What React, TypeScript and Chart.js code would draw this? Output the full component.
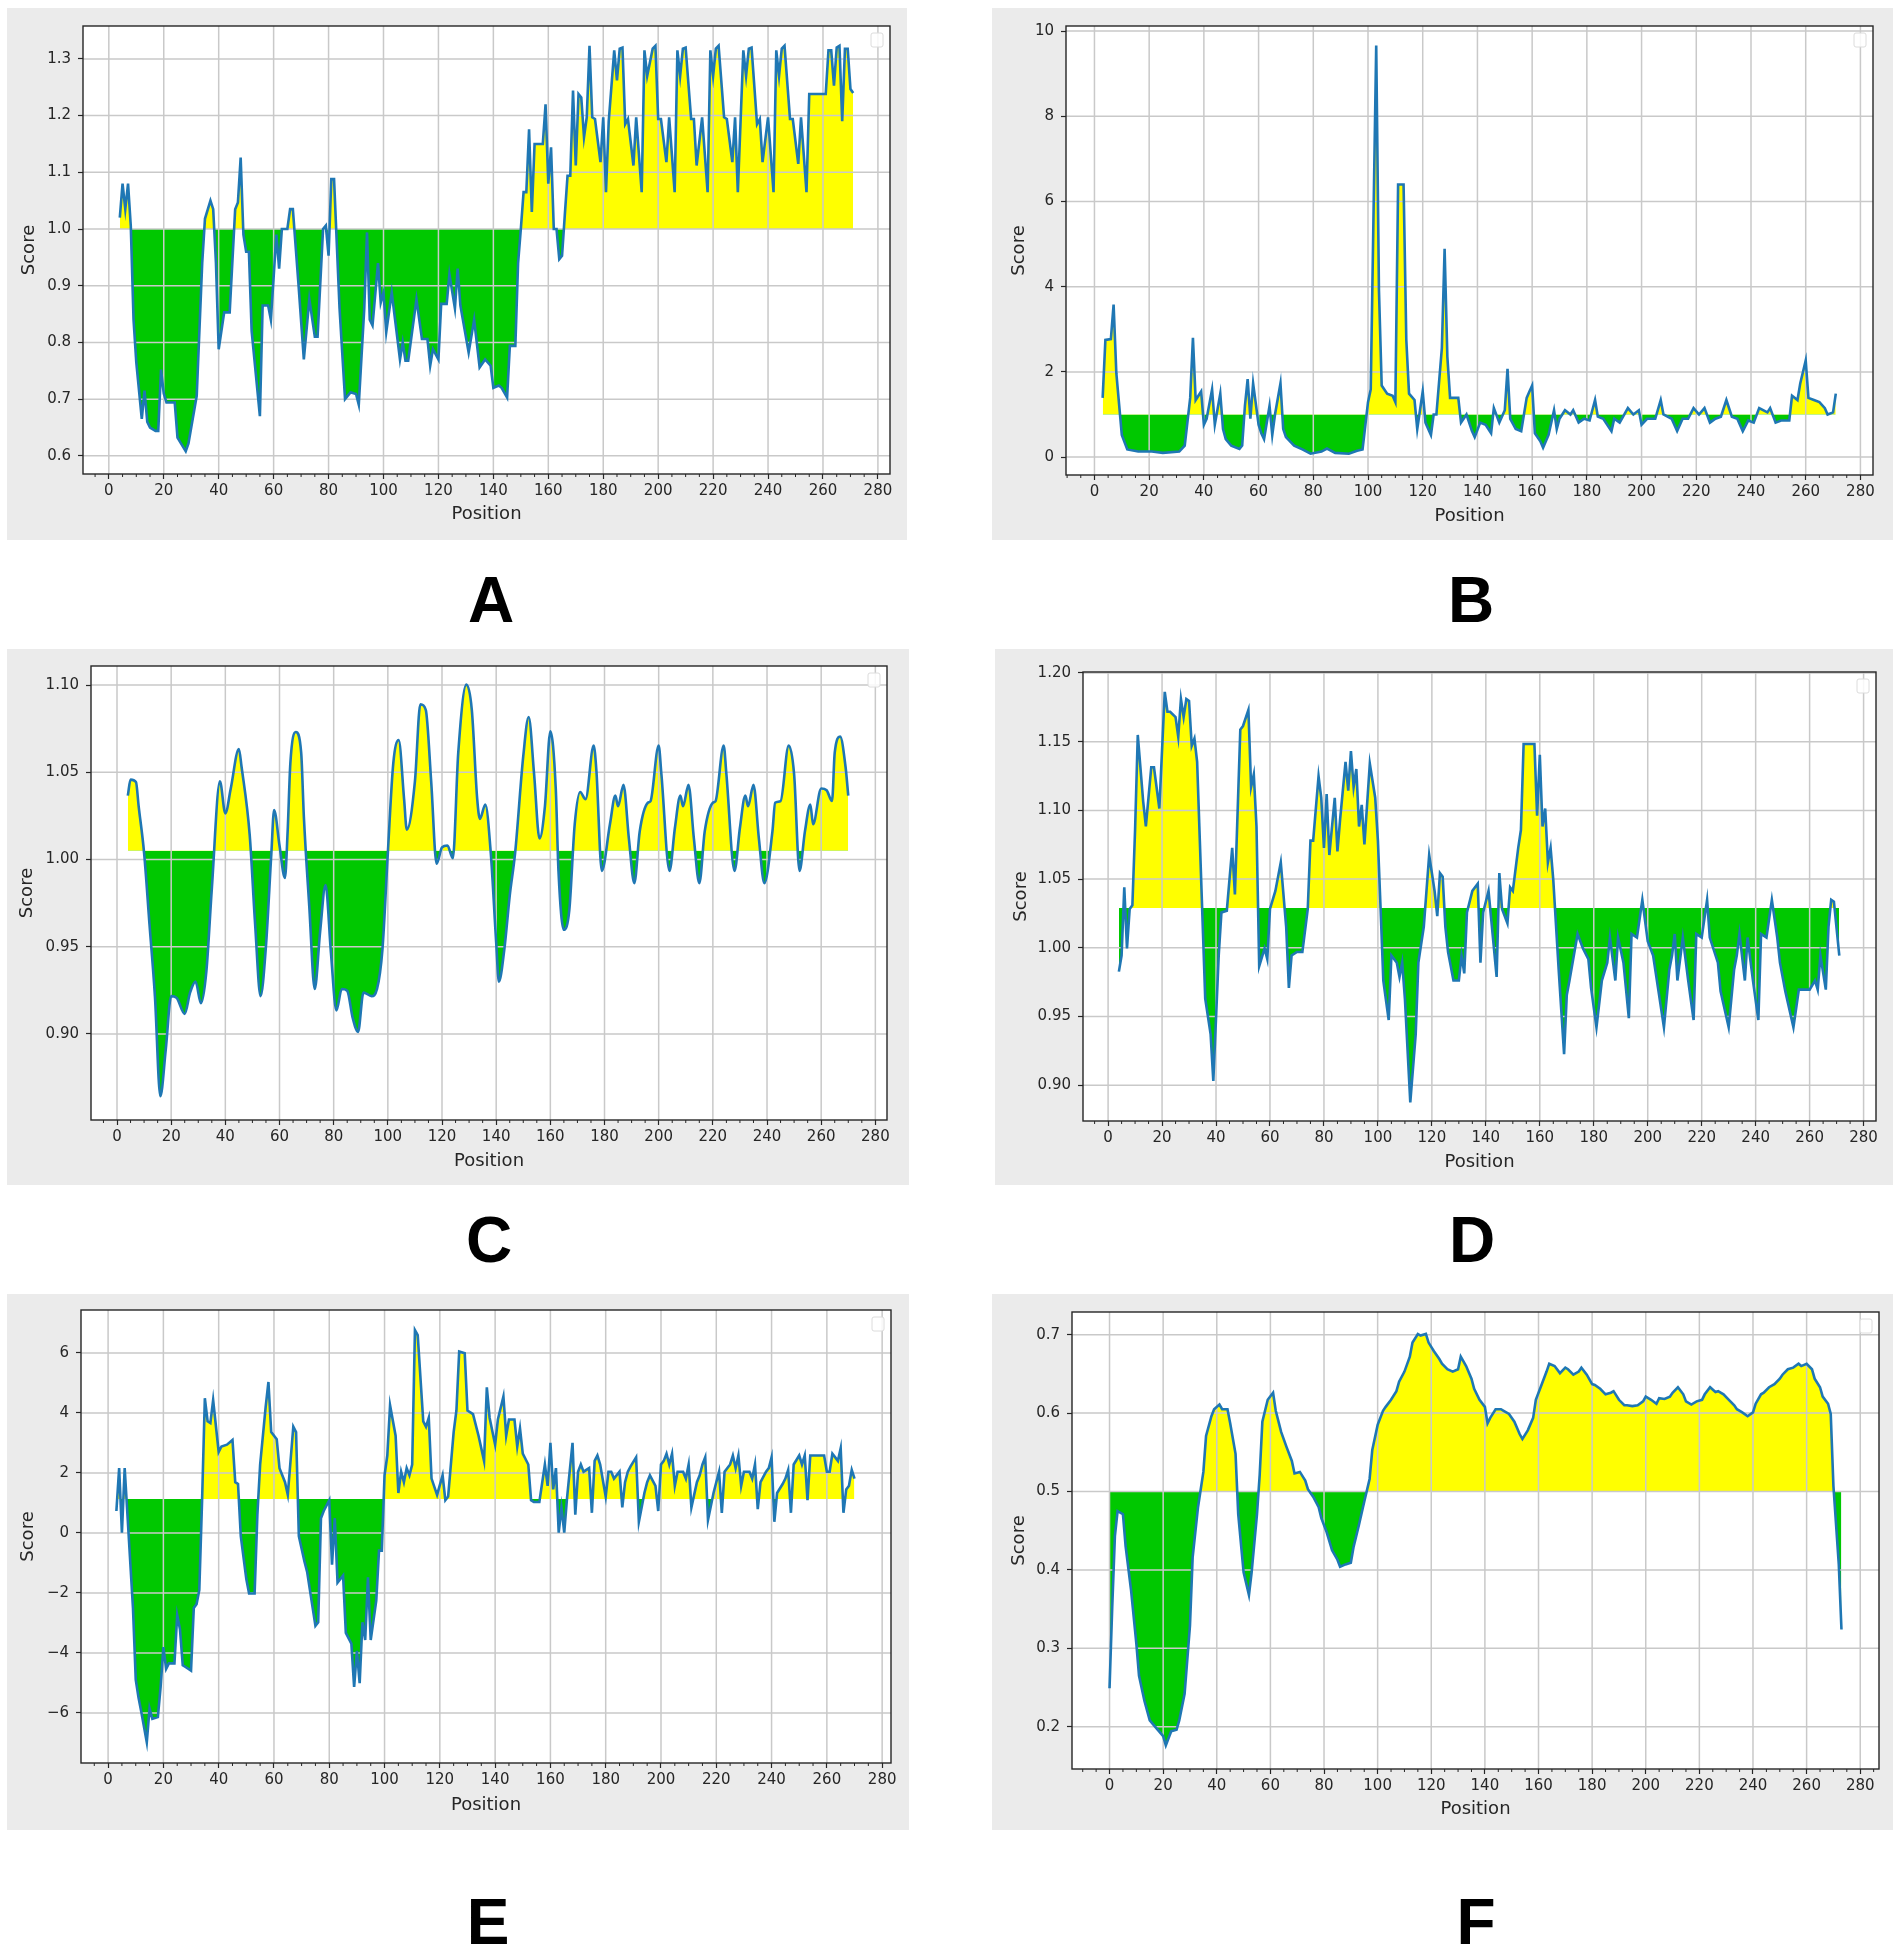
import React, { useEffect, useRef } from "react";
import { Chart, registerables } from "chart.js";

Chart.register(...registerables);

// ---------- data ----------
const positionsA = [4, 5, 6, 7, 8, 9, 10, 12, 13, 14, 15, 17, 18, 19, 20, 21, 24, 25, 28, 29, 32, 34, 35, 37, 38, 39, 40, 42, 44, 46, 47, 48, 49, 50, 51, 52, 53, 55, 56, 58, 59, 61, 62, 63, 65, 66, 67, 69, 71, 73, 75, 76, 78, 79, 80, 81, 82, 84, 86, 88, 90, 91, 93, 94, 95, 96, 98, 99, 100, 101, 103, 106, 107, 108, 109, 112, 114, 116, 117, 118, 120, 121, 123, 124, 126, 127, 128, 131, 133, 135, 137, 139, 140, 142, 143, 145, 146, 148, 149, 150, 151, 152, 153, 154, 155, 158, 159, 160, 161, 162, 163, 164, 165, 166, 167, 168, 169, 170, 171, 172, 173, 174, 175, 176, 177, 179, 180, 181, 182, 184, 185, 186, 187, 188, 189, 191, 192, 194, 195, 196, 198, 199, 200, 201, 203, 204, 206, 207, 208, 209, 210, 212, 213, 214, 216, 218, 219, 220, 221, 222, 224, 225, 227, 228, 229, 231, 232, 233, 234, 236, 237, 238, 240, 242, 243, 244, 245, 246, 248, 249, 251, 252, 254, 255, 261, 262, 263, 264, 265, 266, 267, 268, 269, 270, 271];
const scoresA = [1.02, 1.08, 1.035, 1.08, 1.005, 0.84, 0.765, 0.665, 0.715, 0.66, 0.65, 0.644, 0.644, 0.752, 0.71, 0.694, 0.694, 0.632, 0.608, 0.622, 0.706, 0.94, 1.018, 1.05, 1.035, 0.94, 0.788, 0.853, 0.853, 1.035, 1.047, 1.126, 0.99, 0.96, 0.96, 0.82, 0.77, 0.67, 0.865, 0.865, 0.84, 0.99, 0.93, 1.0, 1.0, 1.035, 1.035, 0.906, 0.77, 0.876, 0.81, 0.81, 1.0, 1.006, 0.953, 1.088, 1.088, 0.86, 0.7, 0.712, 0.709, 0.69, 0.86, 0.994, 0.84, 0.83, 0.94, 0.87, 0.888, 0.818, 0.888, 0.77, 0.8, 0.768, 0.768, 0.876, 0.806, 0.806, 0.759, 0.788, 0.77, 0.868, 0.868, 0.92, 0.86, 0.93, 0.865, 0.782, 0.84, 0.756, 0.77, 0.759, 0.72, 0.724, 0.72, 0.703, 0.794, 0.794, 0.94, 1.0, 1.065, 1.065, 1.176, 1.03, 1.15, 1.15, 1.22, 1.08, 1.144, 1.0, 1.0, 0.947, 0.953, 1.024, 1.094, 1.094, 1.244, 1.112, 1.238, 1.232, 1.162, 1.197, 1.323, 1.197, 1.194, 1.118, 1.197, 1.065, 1.19, 1.315, 1.262, 1.318, 1.32, 1.185, 1.194, 1.112, 1.197, 1.065, 1.315, 1.27, 1.318, 1.323, 1.194, 1.194, 1.118, 1.197, 1.065, 1.315, 1.27, 1.318, 1.32, 1.194, 1.194, 1.112, 1.197, 1.065, 1.315, 1.27, 1.318, 1.323, 1.197, 1.194, 1.118, 1.197, 1.065, 1.315, 1.27, 1.318, 1.32, 1.185, 1.194, 1.118, 1.197, 1.065, 1.315, 1.27, 1.318, 1.323, 1.194, 1.194, 1.115, 1.197, 1.065, 1.238, 1.238, 1.315, 1.315, 1.253, 1.32, 1.323, 1.19, 1.318, 1.318, 1.247, 1.24];

const positionsB = [3, 4, 6, 7, 8, 10, 12, 16, 21, 25, 31, 33, 35, 36, 37, 39, 40, 41, 43, 44, 46, 47, 48, 50, 53, 54, 55, 56, 57, 58, 60, 61, 62, 64, 65, 66, 68, 69, 70, 73, 76, 79, 83, 85, 88, 93, 96, 98, 100, 101, 103, 104, 105, 107, 109, 110, 111, 113, 114, 115, 117, 118, 120, 121, 123, 124, 125, 127, 128, 129, 130, 133, 134, 136, 138, 139, 141, 143, 145, 146, 148, 150, 151, 152, 154, 156, 158, 159, 160, 161, 163, 164, 166, 168, 169, 170, 172, 174, 175, 177, 179, 181, 183, 184, 186, 189, 190, 192, 195, 197, 199, 200, 202, 205, 207, 208, 211, 213, 215, 217, 219, 221, 223, 225, 227, 229, 231, 233, 235, 237, 239, 241, 243, 246, 247, 249, 251, 254, 255, 257, 258, 260, 261, 263, 265, 267, 268, 270, 271];
const scoresB = [1.39, 2.75, 2.77, 3.58, 1.97, 0.52, 0.18, 0.13, 0.13, 0.1, 0.13, 0.27, 1.39, 2.8, 1.34, 1.54, 0.76, 0.9, 1.59, 0.76, 1.49, 0.66, 0.42, 0.27, 0.19, 0.27, 1.2, 1.83, 0.9, 1.73, 0.76, 0.56, 0.42, 1.2, 0.52, 1.0, 1.73, 0.66, 0.47, 0.27, 0.18, 0.08, 0.13, 0.2, 0.1, 0.08, 0.15, 0.18, 1.29, 1.59, 9.66, 3.92, 1.68, 1.49, 1.44, 1.29, 6.4, 6.4, 2.75, 1.49, 1.34, 0.66, 1.54, 0.81, 0.52, 1.0, 1.0, 2.56, 4.89, 2.36, 1.39, 1.39, 0.81, 1.0, 0.61, 0.47, 0.81, 0.76, 0.56, 1.15, 0.81, 1.1, 2.07, 0.9, 0.66, 0.61, 1.39, 1.54, 1.68, 0.56, 0.37, 0.22, 0.52, 1.1, 0.66, 0.9, 1.1, 1.0, 1.1, 0.81, 0.9, 0.86, 1.34, 0.95, 0.9, 0.61, 0.9, 0.81, 1.15, 1.0, 1.1, 0.76, 0.9, 0.9, 1.34, 1.0, 0.9, 0.61, 0.9, 0.9, 1.15, 1.0, 1.15, 0.81, 0.9, 0.95, 1.34, 0.95, 0.9, 0.61, 0.86, 0.81, 1.15, 1.05, 1.15, 0.81, 0.86, 0.86, 1.44, 1.34, 1.73, 2.27, 1.39, 1.34, 1.29, 1.15, 1.0, 1.05, 1.49];

const positionsC = [4, 5, 7, 8, 10, 12, 14, 16, 18, 20, 22, 25, 27, 29, 31, 33, 35, 38, 40, 42, 45, 46, 49, 51, 53, 55, 57, 58, 60, 62, 63, 64, 66, 68, 69, 71, 73, 75, 77, 79, 81, 83, 85, 87, 89, 91, 94, 96, 98, 100, 102, 104, 106, 107, 110, 112, 114, 116, 118, 120, 122, 124, 126, 129, 131, 133, 134, 136, 138, 140, 141, 143, 145, 147, 150, 152, 154, 156, 158, 160, 162, 163, 165, 167, 169, 171, 173, 176, 177, 179, 182, 184, 185, 187, 189, 191, 193, 196, 197, 200, 201, 204, 206, 208, 209, 211, 213, 215, 217, 220, 221, 224, 225, 228, 230, 232, 233, 235, 237, 239, 242, 243, 245, 248, 250, 252, 254, 256, 257, 260, 262, 264, 265, 267, 269, 270];
const scoresC = [1.0366, 1.0458, 1.0444, 1.0305, 1.0038, 0.9628, 0.9217, 0.8643, 0.891, 0.9217, 0.9207, 0.9115, 0.9238, 0.93, 0.9176, 0.936, 0.983, 1.0448, 1.0264, 1.0407, 1.0633, 1.053, 1.014, 0.9628, 0.9217, 0.9505, 1.0038, 1.0284, 1.008, 0.9894, 1.016, 1.055, 1.0731, 1.0613, 1.0243, 0.973, 0.9258, 0.9587, 0.9853, 0.9464, 0.9135, 0.9258, 0.9248, 0.9094, 0.9012, 0.9238, 0.9217, 0.9258, 0.9484, 1.0038, 1.055, 1.0684, 1.0346, 1.0171, 1.0448, 1.0889, 1.0858, 1.0448, 0.9976, 1.0069, 1.008, 1.0007, 1.0612, 1.1002, 1.0858, 1.0346, 1.0233, 1.0315, 1.0038, 0.9525, 0.93, 0.9484, 0.9792, 1.0038, 1.0592, 1.0817, 1.0489, 1.012, 1.0305, 1.0735, 1.0407, 0.9935, 0.9597, 0.971, 1.0202, 1.0387, 1.0346, 1.0653, 1.051, 0.9935, 1.0202, 1.0366, 1.0305, 1.0428, 1.012, 0.9864, 1.0161, 1.0325, 1.0335, 1.0653, 1.0489, 0.9935, 1.0182, 1.0366, 1.0305, 1.0428, 1.012, 0.9864, 1.0161, 1.0325, 1.0335, 1.0653, 1.0489, 0.9935, 1.0182, 1.0366, 1.0305, 1.0428, 1.012, 0.9864, 1.0161, 1.0325, 1.0335, 1.0653, 1.0489, 0.9935, 1.0161, 1.0315, 1.0202, 1.0407, 1.0397, 1.0335, 1.0612, 1.0704, 1.053, 1.0366];

const positionsD = [4, 5, 6, 7, 8, 9, 10, 11, 13, 14, 16, 17, 19, 21, 22, 23, 25, 26, 27, 28, 29, 30, 31, 32, 33, 34, 36, 38, 39, 41, 42, 44, 46, 47, 49, 50, 52, 53, 54, 55, 56, 58, 59, 60, 62, 64, 66, 67, 68, 70, 72, 74, 75, 76, 78, 79, 80, 81, 82, 84, 85, 86, 88, 89, 90, 91, 92, 93, 94, 95, 97, 99, 100, 101, 102, 104, 105, 107, 108, 109, 110, 112, 114, 115, 117, 118, 119, 121, 122, 123, 124, 125, 126, 128, 130, 131, 132, 133, 135, 137, 138, 139, 141, 142, 144, 145, 146, 148, 149, 150, 152, 153, 154, 158, 159, 160, 161, 162, 163, 164, 165, 167, 169, 170, 171, 174, 176, 178, 179, 181, 183, 185, 186, 188, 189, 191, 193, 194, 196, 198, 200, 202, 204, 206, 208, 209, 210, 211, 213, 215, 217, 218, 220, 222, 223, 226, 227, 230, 232, 233, 234, 236, 237, 239, 241, 242, 244, 246, 248, 249, 251, 254, 256, 258, 260, 262, 263, 264, 266, 267, 268, 269, 271];
const scoresD = [0.9827, 0.9944, 1.044, 0.9996, 1.0283, 1.031, 1.0857, 1.1549, 1.1066, 1.0883, 1.1314, 1.1314, 1.1014, 1.1862, 1.1718, 1.1718, 1.1679, 1.1536, 1.181, 1.1679, 1.181, 1.1797, 1.147, 1.1523, 1.1353, 1.078, 0.9631, 0.937, 0.9031, 0.9944, 1.0257, 1.027, 1.0727, 1.0388, 1.1588, 1.1614, 1.1731, 1.117, 1.1262, 1.0883, 0.9866, 0.9996, 0.9918, 1.0283, 1.0414, 1.0622, 1.0153, 0.9709, 0.9944, 0.997, 0.997, 1.0283, 1.078, 1.078, 1.1249, 1.1092, 1.0727, 1.1118, 1.0675, 1.1092, 1.0701, 1.0936, 1.1353, 1.1144, 1.1431, 1.117, 1.1301, 1.0883, 1.104, 1.0753, 1.134, 1.1092, 1.078, 1.0283, 0.9762, 0.9475, 0.9944, 0.9892, 0.9788, 0.9892, 0.9631, 0.8875, 0.937, 0.9892, 1.0153, 1.0414, 1.0675, 1.0414, 1.0231, 1.0544, 1.0518, 1.0153, 0.997, 0.9762, 0.9762, 0.9944, 0.9814, 1.0257, 1.0414, 1.0466, 0.9892, 1.0257, 1.0414, 1.0205, 0.9788, 1.0544, 1.0283, 1.0179, 1.044, 1.0414, 1.0727, 1.0857, 1.1483, 1.1483, 1.0962, 1.1405, 1.0883, 1.1014, 1.0622, 1.0727, 1.0492, 0.984, 0.9227, 0.9657, 0.9762, 1.0101, 0.9996, 0.9918, 0.9709, 0.9422, 0.9762, 0.9892, 1.0075, 0.9762, 1.0075, 0.9892, 0.9488, 1.0101, 1.0075, 1.0349, 1.0049, 0.9944, 0.9683, 0.9422, 0.984, 0.9944, 1.0101, 0.9762, 1.0075, 0.9762, 0.9475, 1.0101, 1.0075, 1.0349, 1.0075, 0.9892, 0.9683, 0.9422, 0.984, 0.9944, 1.0101, 0.9762, 1.0075, 0.9762, 0.9475, 1.0101, 1.0075, 1.0349, 1.0075, 0.9892, 0.9683, 0.9422, 0.9696, 0.9696, 0.9696, 0.9762, 0.9696, 0.9944, 0.9696, 1.0153, 1.0349, 1.0336, 0.9944];

const positionsE = [3, 4, 5, 6, 7, 9, 10, 11, 12, 14, 15, 16, 18, 19, 20, 21, 22, 24, 25, 26, 27, 28, 30, 31, 32, 33, 34, 35, 36, 37, 38, 40, 41, 43, 45, 46, 47, 48, 50, 51, 53, 54, 55, 57, 58, 59, 61, 62, 64, 65, 67, 68, 69, 71, 72, 73, 75, 76, 77, 78, 80, 81, 82, 83, 85, 86, 88, 89, 90, 91, 92, 93, 94, 95, 97, 98, 99, 100, 101, 102, 104, 105, 106, 107, 108, 109, 110, 111, 112, 114, 115, 116, 117, 119, 121, 122, 123, 125, 126, 127, 129, 130, 132, 134, 136, 137, 138, 140, 141, 143, 144, 145, 147, 148, 149, 150, 152, 153, 154, 156, 158, 159, 160, 161, 162, 163, 164, 165, 166, 168, 169, 170, 171, 172, 174, 175, 176, 177, 178, 180, 181, 182, 183, 185, 186, 187, 188, 189, 191, 192, 194, 195, 196, 198, 199, 200, 201, 202, 203, 204, 205, 206, 208, 209, 210, 211, 213, 214, 215, 216, 217, 219, 220, 221, 222, 223, 225, 226, 227, 228, 229, 230, 232, 233, 234, 235, 236, 238, 239, 240, 241, 242, 244, 245, 246, 247, 248, 250, 251, 252, 253, 254, 259, 260, 261, 262, 264, 265, 266, 267, 268, 269, 270];
const scoresE = [0.73, 2.16, 0.01, 2.16, 0.61, -2.5, -4.89, -5.49, -5.96, -6.98, -5.85, -6.2, -6.14, -5.13, -3.81, -4.53, -4.35, -4.35, -2.74, -3.21, -4.41, -4.47, -4.59, -2.5, -2.38, -1.9, 1.09, 4.49, 3.72, 3.66, 4.43, 2.7, 2.88, 2.94, 3.1, 1.69, 1.63, -0.11, -1.54, -2.02, -2.02, 0.61, 2.28, 4.2, 5.03, 3.36, 3.12, 2.16, 1.69, 1.27, 3.54, 3.36, -0.11, -0.94, -1.3, -1.9, -3.1, -2.98, 0.49, 0.73, 1.09, -1.06, 0.49, -1.66, -1.42, -3.33, -3.69, -5.13, -3.93, -5.01, -2.98, -3.57, -1.48, -3.57, -2.26, -0.59, -0.59, 1.92, 2.58, 4.25, 3.24, 1.33, 2.04, 1.69, 2.16, 1.92, 2.28, 6.76, 6.59, 3.72, 3.54, 3.84, 1.81, 1.27, 1.92, 1.09, 1.21, 3.36, 4.08, 6.05, 5.99, 4.08, 3.96, 3.24, 2.4, 4.85, 3.84, 2.94, 3.78, 4.55, 3.24, 3.78, 3.78, 2.88, 3.48, 2.64, 2.28, 1.09, 1.03, 1.03, 2.28, 1.57, 3.0, 1.45, 2.16, 0.01, 0.85, 0.01, 1.15, 3.0, 0.61, 2.04, 2.28, 2.04, 2.16, 0.67, 2.4, 2.58, 2.28, 1.21, 2.04, 2.04, 1.81, 2.04, 0.85, 1.69, 2.04, 2.22, 2.52, 0.37, 1.33, 1.69, 1.92, 1.57, 0.73, 2.28, 2.4, 2.64, 2.28, 2.64, 1.57, 2.04, 2.04, 1.81, 2.28, 0.85, 1.69, 1.92, 2.28, 2.52, 0.43, 1.33, 1.69, 2.04, 0.67, 2.04, 2.28, 2.58, 2.16, 2.58, 1.57, 2.04, 2.04, 1.81, 2.28, 0.79, 1.69, 2.04, 2.16, 2.52, 0.37, 1.33, 1.63, 1.81, 2.1, 0.67, 2.28, 2.58, 2.28, 2.58, 1.09, 2.58, 2.58, 2.04, 2.04, 2.64, 2.4, 2.82, 0.67, 1.45, 1.57, 2.1, 1.81];

const positionsF = [0, 1, 2, 3, 5, 6, 8, 10, 11, 13, 15, 18, 20, 21, 23, 25, 26, 28, 30, 31, 33, 35, 36, 38, 39, 41, 42, 44, 45, 47, 48, 50, 52, 53, 55, 56, 57, 59, 61, 62, 64, 66, 68, 69, 71, 73, 74, 76, 78, 79, 81, 83, 85, 86, 88, 90, 91, 93, 95, 97, 98, 100, 102, 103, 105, 107, 108, 110, 112, 113, 115, 116, 118, 119, 121, 123, 124, 126, 128, 130, 131, 133, 135, 136, 138, 140, 141, 142, 144, 146, 147, 149, 151, 153, 154, 156, 158, 159, 161, 163, 164, 166, 168, 170, 171, 173, 175, 176, 178, 180, 181, 183, 185, 187, 188, 190, 192, 193, 195, 197, 199, 200, 202, 204, 205, 207, 209, 210, 212, 214, 215, 217, 219, 221, 222, 224, 226, 227, 229, 231, 233, 234, 236, 238, 240, 241, 243, 244, 246, 248, 250, 251, 253, 255, 257, 258, 260, 262, 263, 265, 266, 268, 269, 270, 272, 273];
const scoresF = [0.249, 0.352, 0.443, 0.475, 0.471, 0.43, 0.375, 0.306, 0.265, 0.233, 0.208, 0.196, 0.188, 0.176, 0.194, 0.196, 0.208, 0.242, 0.329, 0.416, 0.48, 0.525, 0.571, 0.596, 0.605, 0.611, 0.605, 0.605, 0.587, 0.548, 0.471, 0.397, 0.368, 0.397, 0.471, 0.521, 0.589, 0.617, 0.626, 0.603, 0.576, 0.557, 0.539, 0.523, 0.525, 0.514, 0.503, 0.493, 0.48, 0.466, 0.448, 0.425, 0.413, 0.404, 0.407, 0.409, 0.429, 0.457, 0.487, 0.516, 0.553, 0.585, 0.603, 0.608, 0.617, 0.628, 0.64, 0.653, 0.672, 0.69, 0.701, 0.699, 0.701, 0.69, 0.679, 0.669, 0.663, 0.656, 0.653, 0.656, 0.672, 0.66, 0.644, 0.631, 0.617, 0.608, 0.587, 0.594, 0.605, 0.605, 0.603, 0.599, 0.589, 0.573, 0.567, 0.578, 0.594, 0.617, 0.635, 0.653, 0.663, 0.66, 0.651, 0.658, 0.656, 0.649, 0.653, 0.658, 0.649, 0.637, 0.636, 0.631, 0.624, 0.626, 0.628, 0.617, 0.61, 0.61, 0.609, 0.61, 0.615, 0.621, 0.617, 0.612, 0.619, 0.618, 0.621, 0.626, 0.633, 0.624, 0.615, 0.611, 0.615, 0.617, 0.624, 0.633, 0.627, 0.628, 0.624, 0.617, 0.61, 0.605, 0.601, 0.596, 0.601, 0.612, 0.624, 0.626, 0.633, 0.637, 0.644, 0.649, 0.656, 0.658, 0.663, 0.66, 0.663, 0.656, 0.644, 0.633, 0.621, 0.612, 0.599, 0.507, 0.407, 0.324];

const thresholds = [1.0, 1.0, 1.005, 1.029, 1.13, 0.5];
const panelLetters = ["A", "B", "C", "D", "E", "F"];

const LINE_BLUE = "#1f77b4";
const ABOVE_YELLOW = "#ffff00";
const BELOW_GREEN = "#00c800";
const GRID_GREY = "#c9c9c9";
const INK = "#262626";
const FONT = "'DejaVu Sans', sans-serif";

const minus = (v: number) => (v < 0 ? "\u2212" + Math.abs(v) : String(v));

// layout: box = grey figure background, plot = axes rectangle (page px)
const panels = [
  { xs: positionsA, ys: scoresA, xMin: -9.4, xMax: 284.4, yMin: 0.568, yMax: 1.358, yStep: 0.1, fmt: (v: number) => v.toFixed(1), box: [7, 8, 907, 540], plot: [83, 26, 890, 474], scoreX: 22, posY: 25.5, letter: [491, 600], smooth: false },
  { xs: positionsB, ys: scoresB, xMin: -10.4, xMax: 284.6, yMin: -0.42, yMax: 10.12, yStep: 2, fmt: (v: number) => String(v), box: [992, 8, 1893, 540], plot: [1066, 26, 1873, 475], scoreX: 27, posY: 23.5, letter: [1471, 600], smooth: false },
  { xs: positionsC, ys: scoresC, xMin: -9.6, xMax: 284.3, yMin: 0.8507, yMax: 1.1109, yStep: 0.05, fmt: (v: number) => v.toFixed(2), box: [7, 649, 909, 1185], plot: [91, 666, 887, 1120], scoreX: 20, posY: 23.5, letter: [489, 1240], smooth: true },
  { xs: positionsD, ys: scoresD, xMin: -9.3, xMax: 284.6, yMin: 0.874, yMax: 1.2007, yStep: 0.05, fmt: (v: number) => v.toFixed(2), box: [995, 649, 1893, 1185], plot: [1083, 672, 1876, 1121], scoreX: 26, posY: 22.5, letter: [1472, 1240], smooth: false },
  { xs: positionsE, ys: scoresE, xMin: -9.8, xMax: 283.2, yMin: -7.67, yMax: 7.43, yStep: 2, fmt: minus, box: [7, 1294, 909, 1830], plot: [81, 1310, 891, 1763], scoreX: 21.5, posY: 25, letter: [488, 1922], smooth: false },
  { xs: positionsF, ys: scoresF, xMin: -14, xMax: 287, yMin: 0.146, yMax: 0.729, yStep: 0.1, fmt: (v: number) => v.toFixed(1), box: [992, 1294, 1893, 1830], plot: [1072, 1312, 1879, 1769], scoreX: 27.5, posY: 21, letter: [1476, 1922], smooth: false },
];

// grid over the fill but under the line, full frame, minor ticks, empty legend
const framePlugin = {
  id: "frame",
  beforeDraw(chart: any) {
    const { ctx, chartArea: a } = chart;
    ctx.save();
    ctx.fillStyle = "#ffffff";
    ctx.fillRect(a.left, a.top, a.right - a.left, a.bottom - a.top);
    ctx.restore();
  },
  afterDatasetDraw(chart: any, args: any) {
    if (args.index !== 1) return;
    const { ctx, chartArea: a, scales } = chart;
    ctx.save();
    ctx.strokeStyle = GRID_GREY;
    ctx.lineWidth = 1.5;
    ctx.beginPath();
    scales.x.ticks.forEach((t: any) => {
      const px = scales.x.getPixelForValue(t.value);
      ctx.moveTo(px, a.top);
      ctx.lineTo(px, a.bottom);
    });
    scales.y.ticks.forEach((t: any) => {
      const py = scales.y.getPixelForValue(t.value);
      ctx.moveTo(a.left, py);
      ctx.lineTo(a.right, py);
    });
    ctx.stroke();
    ctx.restore();
  },
  afterDraw(chart: any) {
    const { ctx, chartArea: a, scales } = chart;
    ctx.save();
    ctx.strokeStyle = INK;
    ctx.lineWidth = 1.4;
    ctx.strokeRect(a.left, a.top, a.right - a.left, a.bottom - a.top);
    ctx.lineWidth = 1;
    ctx.beginPath();
    for (let v = Math.ceil(scales.x.min / 5) * 5; v <= scales.x.max; v += 5) {
      if (v % 20 === 0) continue;
      const px = scales.x.getPixelForValue(v);
      ctx.moveTo(px, a.bottom);
      ctx.lineTo(px, a.bottom + 3);
    }
    ctx.stroke();
    ctx.fillStyle = "rgba(255,255,255,0.85)";
    ctx.strokeStyle = "#dcdcdc";
    ctx.beginPath();
    ctx.roundRect(a.right - 19, a.top + 7, 12, 14, 2);
    ctx.fill();
    ctx.stroke();
    ctx.restore();
  },
};

type PanelProps = { panel: (typeof panels)[number]; threshold: number };

const Panel: React.FC<PanelProps> = ({ panel, threshold }) => {
  const canvasRef = useRef<HTMLCanvasElement>(null);
  const [bl, bt, br, bb] = panel.box;
  const [pl, pt, pr, pb] = panel.plot;
  const w = br - bl;
  const h = bb - bt;

  useEffect(() => {
    const ctx = canvasRef.current?.getContext("2d");
    if (!ctx) return;
    const points = panel.xs.map((x, i) => ({ x, y: panel.ys[i] }));
    const curve = panel.smooth ? { cubicInterpolationMode: "monotone" as const } : { tension: 0 };
    const tickFont = { family: FONT, size: 15 };
    const titleFont = { family: FONT, size: 18 };

    const chart = new Chart(ctx, {
      type: "line",
      data: {
        datasets: [
          { data: points, borderColor: LINE_BLUE, borderWidth: 2.6, pointRadius: 0, fill: false, ...curve },
          {
            data: points,
            borderColor: "rgba(0,0,0,0)",
            borderWidth: 1,
            pointRadius: 0,
            fill: { target: { value: threshold }, above: ABOVE_YELLOW, below: BELOW_GREEN },
            ...curve,
          },
        ],
      },
      options: {
        animation: false,
        responsive: false,
        devicePixelRatio: 1,
        events: [],
        layout: { padding: { left: 0, bottom: 0, top: pt - bt, right: br - pr } },
        plugins: { legend: { display: false }, tooltip: { enabled: false } },
        scales: {
          x: {
            type: "linear",
            min: panel.xMin,
            max: panel.xMax,
            afterFit: (s: any) => {
              s.height = bb - pb;
            },
            ticks: { stepSize: 20, includeBounds: false, autoSkip: false, maxRotation: 0, padding: 3, color: INK, font: tickFont, callback: (v: any) => String(v) },
            grid: { drawOnChartArea: false, drawTicks: true, tickLength: 5, tickColor: INK, tickWidth: 1.2 },
            border: { display: false },
            title: { display: true, text: "Position", color: INK, font: titleFont, padding: { top: 0, bottom: panel.posY - 10.8 } },
          },
          y: {
            type: "linear",
            min: panel.yMin,
            max: panel.yMax,
            afterFit: (s: any) => {
              s.width = pl - bl;
            },
            ticks: { stepSize: panel.yStep, includeBounds: false, autoSkip: false, padding: 7, color: INK, font: tickFont, callback: (v: any) => panel.fmt(Number(v)) },
            grid: { drawOnChartArea: false, drawTicks: true, tickLength: 5, tickColor: INK, tickWidth: 1.2 },
            border: { display: false },
            title: { display: true, text: "Score", color: INK, font: titleFont, padding: { top: panel.scoreX - 10.8, bottom: 0 } },
          },
        },
      } as any,
      plugins: [framePlugin],
    });

    return () => {
      chart.destroy();
    };
  }, [panel, threshold]);

  return (
    <div style={{ position: "absolute", left: bl, top: bt, width: w, height: h, background: "#ebebeb" }}>
      <canvas ref={canvasRef} width={w} height={h} style={{ display: "block", width: w, height: h }} />
    </div>
  );
};

const App: React.FC = () => (
  <div style={{ position: "absolute", left: 0, top: 0, width: 1902, height: 1951, background: "#ffffff", overflow: "hidden" }}>
    {panels.map((p, i) => (
      <React.Fragment key={panelLetters[i]}>
        <Panel panel={p} threshold={thresholds[i]} />
        <div
          style={{
            position: "absolute",
            left: p.letter[0],
            top: p.letter[1],
            transform: "translate(-50%, -50%)",
            font: "bold 64px 'Liberation Sans', Arial, sans-serif",
            lineHeight: "64px",
            color: "#000",
          }}
        >
          {panelLetters[i]}
        </div>
      </React.Fragment>
    ))}
  </div>
);

export default App;
